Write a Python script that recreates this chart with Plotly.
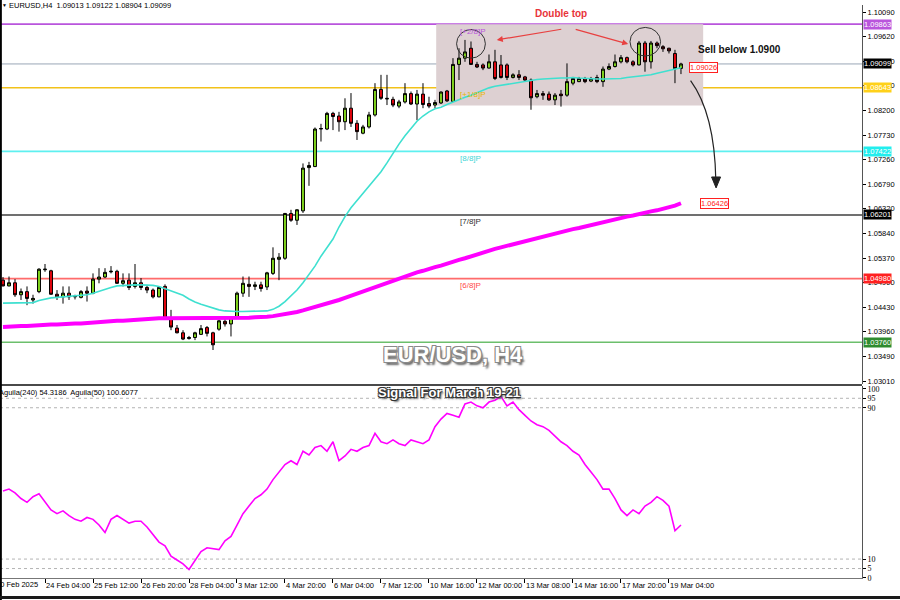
import plotly.graph_objects as go

# ---------------- data ----------------
open_ = [1.0495,1.0484,1.0490,1.0467,1.0473,1.0457,1.0473,1.0515,1.0513,1.0468,
         1.0463,1.0470,1.0463,1.0462,1.0474,1.0470,1.0497,1.0501,1.0511,1.0512,
         1.0489,1.0495,1.0483,1.0490,1.0481,1.0476,1.0463,1.0483,1.0420,1.0403,
         1.0394,1.0383,1.0385,1.0391,1.0404,1.0394,1.0401,1.0416,1.0411,1.0424,
         1.0470,1.0487,1.0483,1.0486,1.0482,1.0508,1.0535,1.0537,1.0623,1.0610,
         1.0628,1.0711,1.0713,1.0785,1.0785,1.0815,1.0810,1.0799,1.0825,1.0796,
         1.0777,1.0789,1.0812,1.0861,1.0844,1.0842,1.0829,1.0837,1.0853,1.0833,
         1.0852,1.0834,1.0831,1.0835,1.0858,1.0838,1.0909,1.0921,1.0940,1.0909,
         1.0908,1.0902,1.0914,1.0908,1.0908,1.0884,1.0889,1.0885,1.0879,1.0847,
         1.0853,1.0852,1.0841,1.0852,1.0850,1.0873,1.0876,1.0881,1.0877,1.0884,
         1.0876,1.0900,1.0905,1.0914,1.0922,1.0914,1.0908,1.0950,1.0914,1.0950,
         1.0943,1.0940,1.0930,1.09013]
high_ = [1.0501,1.0502,1.0497,1.0479,1.0483,1.0467,1.0518,1.0526,1.0515,1.0476,
         1.0483,1.0483,1.0467,1.0476,1.0483,1.0508,1.0518,1.0518,1.0522,1.0515,
         1.0508,1.0508,1.0526,1.0499,1.0486,1.0479,1.0483,1.0487,1.0438,1.0409,
         1.0399,1.0388,1.0396,1.0409,1.0407,1.0396,1.0419,1.0422,1.0426,1.0473,
         1.0502,1.0502,1.0492,1.0492,1.0511,1.0558,1.0547,1.0624,1.0630,1.0631,
         1.0719,1.0722,1.0788,1.0795,1.0818,1.0818,1.0818,1.0844,1.0854,1.0802,
         1.0793,1.0818,1.0873,1.0889,1.0889,1.0847,1.0841,1.0873,1.0857,1.0860,
         1.0873,1.0847,1.0841,1.0857,1.0860,1.0921,1.0940,1.0956,1.0953,1.0914,
         1.0911,1.0928,1.0937,1.0927,1.0911,1.0892,1.0898,1.0887,1.0882,1.0860,
         1.0858,1.0857,1.0854,1.0860,1.0911,1.0885,1.0885,1.0885,1.0885,1.0889,
         1.0905,1.0911,1.0928,1.0927,1.0924,1.0917,1.0954,1.0954,1.0954,1.0953,
         1.0946,1.0941,1.0937,1.09122]
low_ = [1.0483,1.0483,1.0463,1.0457,1.0447,1.0450,1.0470,1.0511,1.0467,1.0457,
        1.0450,1.0457,1.0458,1.0460,1.0454,1.0468,1.0489,1.0499,1.0508,1.0488,
        1.0483,1.0476,1.0479,1.0476,1.0470,1.0460,1.0462,1.0419,1.0399,1.0393,
        1.0380,1.0381,1.0380,1.0390,1.0387,1.0361,1.0398,1.0406,1.0387,1.0422,
        1.0463,1.0463,1.0476,1.0473,1.0476,1.0505,1.0495,1.0534,1.0607,1.0601,
        1.0624,1.0676,1.0712,1.0761,1.0783,1.0783,1.0780,1.0783,1.0789,1.0764,
        1.0775,1.0786,1.0809,1.0841,1.0831,1.0827,1.0825,1.0834,1.0831,1.0802,
        1.0825,1.0825,1.0825,1.0833,1.0837,1.0837,1.0879,1.0914,1.0908,1.0902,
        1.0898,1.0901,1.0879,1.0882,1.0879,1.0882,1.0879,1.0877,1.0822,1.0844,
        1.0841,1.0839,1.0831,1.0828,1.0847,1.0869,1.0875,1.0873,1.0875,1.0873,
        1.0866,1.0898,1.0903,1.0911,1.0911,1.0905,1.0907,1.0895,1.0901,1.0940,
        1.0933,1.0930,1.0873,1.08904]
close_ = [1.0484,1.0490,1.0467,1.0473,1.0460,1.0460,1.0516,1.0516,1.0468,1.0463,
          1.0470,1.0463,1.0464,1.0473,1.0470,1.0497,1.0501,1.0510,1.0512,1.0489,
          1.0494,1.0481,1.0490,1.0481,1.0476,1.0463,1.0481,1.0422,1.0405,1.0394,
          1.0382,1.0385,1.0394,1.0402,1.0393,1.0371,1.0417,1.0411,1.0424,1.0470,
          1.0489,1.0483,1.0486,1.0479,1.0509,1.0537,1.0539,1.0623,1.0610,1.0630,
          1.0710,1.0715,1.0785,1.0786,1.0815,1.0809,1.0799,1.0825,1.0796,1.0780,
          1.0789,1.0812,1.0861,1.0844,1.0843,1.0831,1.0837,1.0853,1.0833,1.0852,
          1.0832,1.0829,1.0836,1.0856,1.0839,1.0909,1.0921,1.0933,1.0909,1.0904,
          1.0902,1.0914,1.0882,1.0884,1.0884,1.0889,1.0884,1.0879,1.0845,1.0853,
          1.0850,1.0841,1.0850,1.0849,1.0876,1.0882,1.0882,1.0876,1.0882,1.0876,
          1.0900,1.0905,1.0914,1.0922,1.0914,1.0908,1.0950,1.0914,1.0950,1.0945,
          1.0939,1.0935,1.0901,1.09099]

ma_fast = [1.0451,1.0451,1.0451,1.0452,1.0452,1.0452,1.0456,1.0459,1.0461,1.0462,
           1.0463,1.0464,1.0465,1.0465,1.0467,1.0470,1.0474,1.0478,1.0481,1.0484,
           1.0485,1.0486,1.0486,1.0486,1.0486,1.0485,1.0483,1.0479,1.0475,1.0470,
           1.0466,1.0459,1.0453,1.0449,1.0445,1.0441,1.0438,1.0436,1.0435,1.0435,
           1.0435,1.0435,1.0435,1.0435,1.0436,1.0439,1.0445,1.0454,1.0465,1.0476,
           1.0490,1.0506,1.0522,1.0541,1.0557,1.0574,1.0597,1.0617,1.0634,1.0648,
           1.0662,1.0676,1.0689,1.0703,1.0720,1.0739,1.0756,1.0772,1.0785,1.0800,
           1.0810,1.0818,1.0824,1.0827,1.0832,1.0837,1.0842,1.0846,1.0850,1.0855,
           1.0860,1.0864,1.0867,1.0869,1.0871,1.0873,1.0875,1.0877,1.0879,1.0880,
           1.0881,1.0882,1.0882,1.0883,1.0883,1.0884,1.0883,1.0882,1.0882,1.0881,
           1.0881,1.0881,1.0882,1.0882,1.0884,1.0885,1.0886,1.0887,1.0889,1.0892,
           1.0895,1.0897,1.0900,1.09026]

ma_slow = [1.0405,1.0406,1.0406,1.0407,1.0407,1.0408,1.0409,1.0409,1.0410,1.0410,
           1.0411,1.0411,1.0412,1.0412,1.0413,1.0414,1.0414,1.0415,1.0416,1.0417,
           1.0417,1.0418,1.0419,1.0420,1.0421,1.0421,1.0422,1.0422,1.0422,1.0422,
           1.0422,1.0422,1.0422,1.0422,1.0422,1.0422,1.0422,1.0423,1.0423,1.0423,
           1.0423,1.0423,1.0424,1.0424,1.0425,1.0426,1.0428,1.0429,1.0432,1.0434,
           1.0437,1.0440,1.0444,1.0447,1.0449,1.0453,1.0457,1.0461,1.0465,1.0470,
           1.0474,1.0478,1.0482,1.0487,1.0491,1.0495,1.0499,1.0503,1.0506,1.0510,
           1.0513,1.0517,1.0520,1.0523,1.0527,1.0530,1.0534,1.0537,1.0541,1.0544,
           1.0548,1.0551,1.0555,1.0558,1.0561,1.0564,1.0567,1.0569,1.0572,1.0575,
           1.0578,1.0581,1.0584,1.0587,1.0590,1.0593,1.0595,1.0598,1.0601,1.0604,
           1.0607,1.0609,1.0612,1.0614,1.0617,1.0619,1.0622,1.0624,1.0627,1.0629,
           1.0632,1.0634,1.0638,1.06426]

aguila = [46,47,45,42,40,43,44.5,40,36,34,
          35.5,33,31,30,32,31,28,24,31,33,
          31,29,30,30,27,23,19,17,11.5,9.5,
          7.5,4.5,9,14,16,15.5,15,19.7,22,28,
          34,38,42,44,47,52,56,60,62,60,
          67,65,69,70,67,72,62,64.5,68,67,
          69,70,76.5,72,71,73,71,70,73,72,
          71,73,80,84,87,86,85,92,93,91,
          90,93,94,96,91,93,89,86,83,81,
          80,78,75,72,70,67,65,60,56,52,
          47,47,42,36,33,36,34,38,40,43,
          41,38,25,28]

price_ticks = [1.10090,1.09620,1.09150,1.08680,1.08200,1.07730,1.07260,1.06790,
               1.06320,1.05840,1.05370,1.04900,1.04430,1.03960,1.03490,1.03010]
osc_ticks = [0,5,10,90,95,100]
osc_levels = [5,10,90,95]

time_tick_pos = [7,15,23,31,39,47,55,63,71,79,87,95,103,111]
time_tick_text = ["24 Feb 04:00","25 Feb 12:00","26 Feb 20:00","28 Feb 04:00","3 Mar 12:00",
                  "4 Mar 20:00","6 Mar 04:00","7 Mar 12:00","10 Mar 16:00","12 Mar 00:00",
                  "13 Mar 08:00","14 Mar 16:00","17 Mar 20:00","19 Mar 04:00"]

level_values = [1.09863, 1.08643, 1.07422, 1.06201, 1.04980, 1.03760]
level_names = ["[+2/8]P", "[+1/8]P", "[8/8]P", "[7/8]P", "[6/8]P", ""]
level_colors = ["#b955dc", "#f2c21a", "#5ef0f0", "#404040", "#ff6b6b", "#6cbf6c"]
level_text_colors = ["#b955dc", "#e8b400", "#3fd6d6", "#303030", "#ff4a4a", "#3a9a3a"]
level_label_bg = ["#b955dc", "#ffd11a", "#22eeee", "#000000", "#ff2020", "#2e8b2e"]
current_price = 1.09099

FONT = "Liberation Sans"

idx = list(range(len(open_)))

fig = go.Figure()

fig.add_trace(go.Candlestick(
    x=idx, open=open_, high=high_, low=low_, close=close_,
    increasing=dict(fillcolor="#82d61e", line=dict(color="#000000", width=1)),
    decreasing=dict(fillcolor="#e3060f", line=dict(color="#000000", width=1)),
    whiskerwidth=0, xaxis="x", yaxis="y", showlegend=False, hoverinfo="skip"))

fig.add_trace(go.Scatter(x=idx, y=ma_slow, mode="lines", xaxis="x", yaxis="y",
                         line=dict(color="#ff00ff", width=4), showlegend=False, hoverinfo="skip"))
fig.add_trace(go.Scatter(x=idx, y=ma_fast, mode="lines", xaxis="x", yaxis="y",
                         line=dict(color="#3fe0d0", width=1.6), showlegend=False, hoverinfo="skip"))
fig.add_trace(go.Scatter(x=idx, y=aguila, mode="lines", xaxis="x2", yaxis="y2",
                         line=dict(color="#ff00ff", width=1.6), showlegend=False, hoverinfo="skip"))

shapes = []
shapes.append(dict(type="rect", xref="x", yref="y", x0=72.2, x1=116.7, y0=1.0830, y1=1.0986,
                   fillcolor="#ddd0d2", line=dict(width=0), layer="below"))
for v, c in zip(level_values, level_colors):
    shapes.append(dict(type="line", xref="x domain", yref="y", x0=0, x1=1, y0=v, y1=v,
                       line=dict(color=c, width=1.6), layer="below"))
shapes.append(dict(type="line", xref="x domain", yref="y", x0=0, x1=1, y0=current_price, y1=current_price,
                   line=dict(color="#9aa6b6", width=1), layer="below"))
for v in osc_levels:
    shapes.append(dict(type="line", xref="x2 domain", yref="y2", x0=0, x1=1, y0=v, y1=v,
                       line=dict(color="#b4b4b4", width=1, dash="dot"), layer="below"))
shapes.append(dict(type="circle", xref="x", yref="y", x0=75.6, x1=80.4, y0=1.0921, y1=1.0976,
                   line=dict(color="#333333", width=1)))
shapes.append(dict(type="circle", xref="x", yref="y", x0=104.5, x1=109.6, y0=1.0925, y1=1.0980,
                   line=dict(color="#333333", width=1)))
shapes.append(dict(type="path", xref="x", yref="y",
                   path="M 114.6,1.0878 Q 118.6,1.0815 118.8,1.0688",
                   line=dict(color="#222222", width=1.2)))
shapes.append(dict(type="path", xref="x", yref="y",
                   path="M 118.1,1.0693 L 119.6,1.0693 L 118.85,1.0672 Z",
                   fillcolor="#222222", line=dict(color="#222222", width=1)))
shapes.append(dict(type="line", xref="paper", yref="paper", x0=0, x1=1, y0=0.3368, y1=0.3368,
                   line=dict(color="#4a4a4a", width=2)))
shapes.append(dict(type="line", xref="paper", yref="paper", x0=0.001, x1=0.001, y0=-0.04, y1=1.01,
                   line=dict(color="#000000", width=2)))
shapes.append(dict(type="line", xref="paper", yref="paper", x0=0, x1=1.05, y0=-0.034, y1=-0.034,
                   line=dict(color="#1a1a1a", width=3)))

annotations = []
annotations.append(dict(xref="paper", yref="paper", x=0.008, y=0.9985, xanchor="left", yanchor="middle",
                        text="EURUSD,H4  1.09013 1.09122 1.08904 1.09099", showarrow=False,
                        font=dict(family=FONT, size=7.5, color="#000000")))
annotations.append(dict(xref="paper", yref="paper", x=0.0005, y=1.0, xanchor="left", yanchor="middle",
                        text="▼", showarrow=False, font=dict(family=FONT, size=5, color="#000000")))
annotations.append(dict(xref="paper", yref="paper", x=-0.003, y=0.3246, xanchor="left", yanchor="middle",
                        text="Aguila(240) 54.3186  Aguila(50) 100.6077", showarrow=False,
                        font=dict(family=FONT, size=7.5, color="#000000")))
for v, name, tc in zip(level_values, level_names, level_text_colors):
    if name:
        annotations.append(dict(xref="x", yref="y", x=75.8, y=v, xanchor="left", yanchor="top",
                                text=name, showarrow=False, yshift=-0.5,
                                font=dict(family=FONT, size=8, color=tc)))
for v, bg in zip(level_values, level_label_bg):
    annotations.append(dict(xref="paper", yref="y", x=1.0, y=v, xanchor="left", yanchor="middle",
                            xshift=1, text=f"{v:.5f}", showarrow=False, bgcolor=bg, borderpad=0,
                            font=dict(family=FONT, size=7.5, color="#ffffff")))
annotations.append(dict(xref="paper", yref="y", x=1.0, y=current_price, xanchor="left", yanchor="middle",
                        xshift=1, text=f"{current_price:.5f}", showarrow=False, bgcolor="#000000", borderpad=0,
                        font=dict(family=FONT, size=7.5, color="#ffffff")))
annotations.append(dict(xref="x", yref="y", x=114.3, y=ma_fast[-1], xanchor="left", yanchor="middle",
                        text=f"{ma_fast[-1]:.5f}", showarrow=False, bgcolor="#ffffff",
                        bordercolor="#ff2020", borderwidth=1, borderpad=0,
                        font=dict(family=FONT, size=7.5, color="#ff2020")))
annotations.append(dict(xref="x", yref="y", x=116.2, y=ma_slow[-1], xanchor="left", yanchor="middle",
                        text=f"{ma_slow[-1]:.5f}", showarrow=False, bgcolor="#ffffff",
                        bordercolor="#ff2020", borderwidth=1, borderpad=0,
                        font=dict(family=FONT, size=7.5, color="#ff2020")))
annotations.append(dict(xref="x", yref="y", x=93, y=1.1006, text="<b>Double top</b>", showarrow=False,
                        font=dict(family=FONT, size=10, color="#e8343a")))
annotations.append(dict(xref="x", yref="y", x=122.7, y=1.0937, text="<b>Sell below 1.0900</b>", showarrow=False,
                        font=dict(family=FONT, size=10, color="#111111")))
annotations.append(dict(xref="x", yref="y", x=82.3, y=1.0956, ax=93.3, ay=1.0977, axref="x", ayref="y",
                        text="", showarrow=True, arrowhead=2, arrowsize=1, arrowwidth=1.2, arrowcolor="#e84040"))
annotations.append(dict(xref="x", yref="y", x=104.2, y=1.0948, ax=95.2, ay=1.0977, axref="x", ayref="y",
                        text="", showarrow=True, arrowhead=2, arrowsize=1, arrowwidth=1.2, arrowcolor="#e84040"))
annotations.append(dict(xref="paper", yref="paper", x=0.5255, y=0.3892, text="<b>EUR/USD, H4</b>",
                        showarrow=False,
                        font=dict(family=FONT, size=22, color="#ffffff",
                                  shadow="1px 1px 0 #8a8a8a, -1px -1px 0 #8a8a8a, 1px -1px 0 #8a8a8a, -1px 1px 0 #8a8a8a, 2px 3px 2px #666")))
annotations.append(dict(xref="paper", yref="paper", x=0.5209, y=0.3072, text="<b>Signal For March 19-21</b>",
                        showarrow=False,
                        font=dict(family=FONT, size=13, color="#ffffff",
                                  shadow="1px 1px 0 #333, -1px -1px 0 #333, 1px -1px 0 #333, -1px 1px 0 #333, 2px 2px 2px #555")))
annotations.append(dict(xref="paper", yref="paper", x=-0.007, y=-0.0122, xanchor="left", yanchor="middle",
                        text="20 Feb 2025", showarrow=False,
                        font=dict(family=FONT, size=7.5, color="#000000")))

fig.update_layout(
    width=900, height=600,
    margin=dict(l=0, r=38, t=5, b=22, autoexpand=False),
    paper_bgcolor="#ffffff", plot_bgcolor="#ffffff",
    showlegend=False, hovermode=False,
    shapes=shapes, annotations=annotations,
    xaxis=dict(domain=[0, 1], range=[-0.5, 143.17], anchor="y", showticklabels=False,
               showgrid=False, zeroline=False, ticks="", showline=False, automargin=False,
               rangeslider=dict(visible=False)),
    xaxis2=dict(domain=[0, 1], matches="x", anchor="y2", tickmode="array",
                tickvals=time_tick_pos, ticktext=time_tick_text, ticks="outside", ticklen=4,
                tickangle=0, automargin=False,
                tickcolor="#000000", ticklabelposition="outside right", showgrid=False, zeroline=False,
                showline=True, linecolor="#777777", linewidth=1,
                tickfont=dict(family=FONT, size=7.5, color="#000000")),
    yaxis=dict(domain=[0.3386, 1], range=[1.02958, 1.10230], anchor="x", side="right",
               tickmode="array", tickvals=price_ticks, ticktext=[f"{v:.5f}" for v in price_ticks],
               ticks="outside", ticklen=3, tickcolor="#000000", showgrid=False, zeroline=False,
               showline=True, linecolor="#555555", linewidth=1, automargin=False,
               tickfont=dict(family=FONT, size=7.5, color="#000000")),
    yaxis2=dict(domain=[0, 0.3351], range=[0, 101.5], anchor="x2", side="right",
                tickmode="array", tickvals=osc_ticks, ticktext=[str(v) for v in osc_ticks],
                ticks="outside", ticklen=3, tickcolor="#000000", showgrid=False, zeroline=False,
                showline=True, linecolor="#555555", linewidth=1, automargin=False,
                tickfont=dict(family="Liberation Serif", size=8, color="#000000")),
)

fig.write_html("out.html", config={"displayModeBar": False, "staticPlot": True},
               post_script="document.body.style.margin='0';document.body.style.overflow='hidden';")
